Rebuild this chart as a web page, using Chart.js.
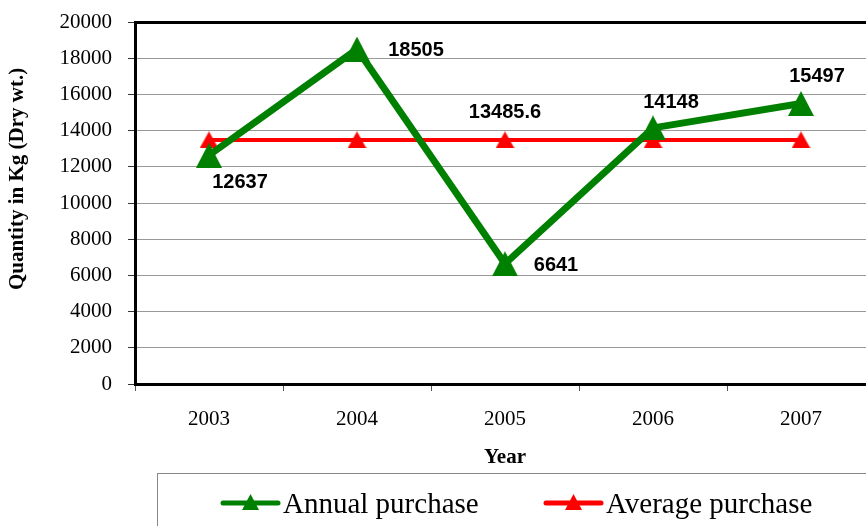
<!DOCTYPE html>
<html>
<head>
<meta charset="utf-8">
<script src="https://cdn.jsdelivr.net/npm/chart.js@4.4.1/dist/chart.umd.min.js"></script>
<style>
  html, body { margin:0; padding:0; background:#fff; overflow:hidden; }
  #wrap { width:866px; height:526px; overflow:hidden; position:relative; }
  #chart { display:block; }
</style>
</head>
<body>
<div id="wrap"><canvas id="chart" width="900" height="526"></canvas></div>
<script>
// ============ DATA ============
const years = ['2003', '2004', '2005', '2006', '2007'];
const annualPurchase = [12637, 18505, 6641, 14148, 15497];
const averagePurchase = [13485.6, 13485.6, 13485.6, 13485.6, 13485.6];
const annualLabels = ['12637', '18505', '6641', '14148', '15497'];
const averageLabels = [null, null, '13485.6', null, null];
const yMin = 0, yMax = 20000, yStep = 2000;

const SERIF = '"Liberation Serif", "Times New Roman", serif';
const SANS = '"Liberation Sans", Arial, sans-serif';

// excel-like triangle marker (centered box, not circumscribed)
function triMarker(w, h, color) {
  const c = document.createElement('canvas');
  c.width = w; c.height = h;
  const g = c.getContext('2d');
  g.fillStyle = color;
  g.beginPath();
  g.moveTo(w / 2, 0); g.lineTo(w, h); g.lineTo(0, h);
  g.closePath(); g.fill();
  return c;
}
const greenTri = triMarker(26, 25, '#008000');
const redTri = triMarker(19, 17, '#ff0000');

// point labels drawn next to the markers
const pointLabels = {
  id: 'pointLabels',
  afterDatasetsDraw(chart, args, opts) {
    const ctx = chart.ctx;
    ctx.save();
    ctx.font = 'bold 20px ' + SANS;
    ctx.fillStyle = '#000';
    ctx.textAlign = 'center';
    ctx.textBaseline = 'middle';
    opts.sets.forEach((set, di) => {
      const meta = chart.getDatasetMeta(di);
      set.labels.forEach((txt, i) => {
        if (!txt) return;
        const p = meta.data[i];
        const o = set.offsets[i];
        ctx.fillText(txt, p.x + o[0], p.y + o[1]);
      });
    });
    ctx.restore();
  }
};

// y title + boxed legend at the bottom
const extras = {
  id: 'extras',
  afterDraw(chart) {
    const ctx = chart.ctx;
    ctx.save();
    ctx.translate(18, 179);
    ctx.rotate(-Math.PI / 2);
    ctx.font = 'bold 21px ' + SERIF;
    ctx.fillStyle = '#000';
    ctx.textAlign = 'center';
    ctx.textBaseline = 'middle';
    ctx.fillText('Quantity in Kg (Dry wt.)', 0, 0);
    ctx.restore();

    ctx.save();
    ctx.strokeStyle = '#888';
    ctx.lineWidth = 1;
    ctx.strokeRect(157.5, 473.5, 760, 80);
    const itemX = [223, 546];
    chart.data.datasets.forEach((ds, i) => {
      const x0 = itemX[i], y = 503;
      ctx.strokeStyle = ds.borderColor;
      ctx.lineWidth = 5;
      ctx.lineCap = 'round';
      ctx.beginPath(); ctx.moveTo(x0, y); ctx.lineTo(x0 + 55, y); ctx.stroke();
      const cx = x0 + 27.5;
      ctx.fillStyle = ds.borderColor;
      ctx.beginPath();
      ctx.moveTo(cx, y - 9);
      ctx.lineTo(cx + 8.5, y + 7);
      ctx.lineTo(cx - 8.5, y + 7);
      ctx.closePath(); ctx.fill();
      ctx.fillStyle = '#000';
      ctx.font = '29px ' + SERIF;
      ctx.textAlign = 'left';
      ctx.textBaseline = 'alphabetic';
      ctx.fillText(ds.label, x0 + 60, 513);
    });
    ctx.restore();
  }
};

new Chart(document.getElementById('chart'), {
  type: 'line',
  data: {
    labels: years,
    datasets: [
      { label:'Annual purchase', data:annualPurchase, borderColor:'#008000', backgroundColor:'#008000',
        borderWidth:7, tension:0, pointStyle:greenTri },
      { label:'Average purchase', data:averagePurchase, borderColor:'#ff0000', backgroundColor:'#ff0000',
        borderWidth:4, tension:0, pointStyle:redTri }
    ]
  },
  options: {
    responsive:false, animation:false, devicePixelRatio:1,
    layout:{ padding:{ top:22, right:25, left:0, bottom:0 } },
    plugins:{
      legend:{display:false}, tooltip:{enabled:false},
      pointLabels:{ sets:[
        { labels:annualLabels, offsets:[[31,27],[59,1],[51,2],[18,-25],[16,-27]] },
        { labels:averageLabels, offsets:[[0,0],[0,0],[0,-27],[0,0],[0,0]] }
      ] }
    },
    scales:{
      x:{
        offset:true,
        grid:{ offset:true, drawOnChartArea:false, tickLength:7, tickColor:'#555', tickWidth:1 },
        border:{ color:'#000', width:3 },
        ticks:{ color:'#000', font:{ family:SERIF, size:21 }, padding:16 },
        title:{ display:true, text:'Year', color:'#000', font:{ family:SERIF, size:21, weight:'bold' }, padding:{ top:0, bottom:56 } },
        afterFit(s) { s.height = 142; s.paddingLeft = 0; s.paddingRight = 0; }
      },
      y:{
        min:yMin, max:yMax,
        ticks:{ stepSize:yStep, color:'#000', font:{ family:SERIF, size:21 }, padding:16,
                callback:(v) => String(v) },
        grid:{ color:(c) => c.tick && c.tick.value === yMax ? '#000' : '#999',
               lineWidth:(c) => c.tick && c.tick.value === yMax ? 3 : 1,
               tickLength:7, tickColor:'#333', tickWidth:1 },
        border:{ color:'#000', width:3 },
        afterFit(s) { s.width = 135; s.paddingTop = 0; s.paddingBottom = 0; }
      }
    }
  },
  plugins:[pointLabels, extras]
});
</script>
</body>
</html>
